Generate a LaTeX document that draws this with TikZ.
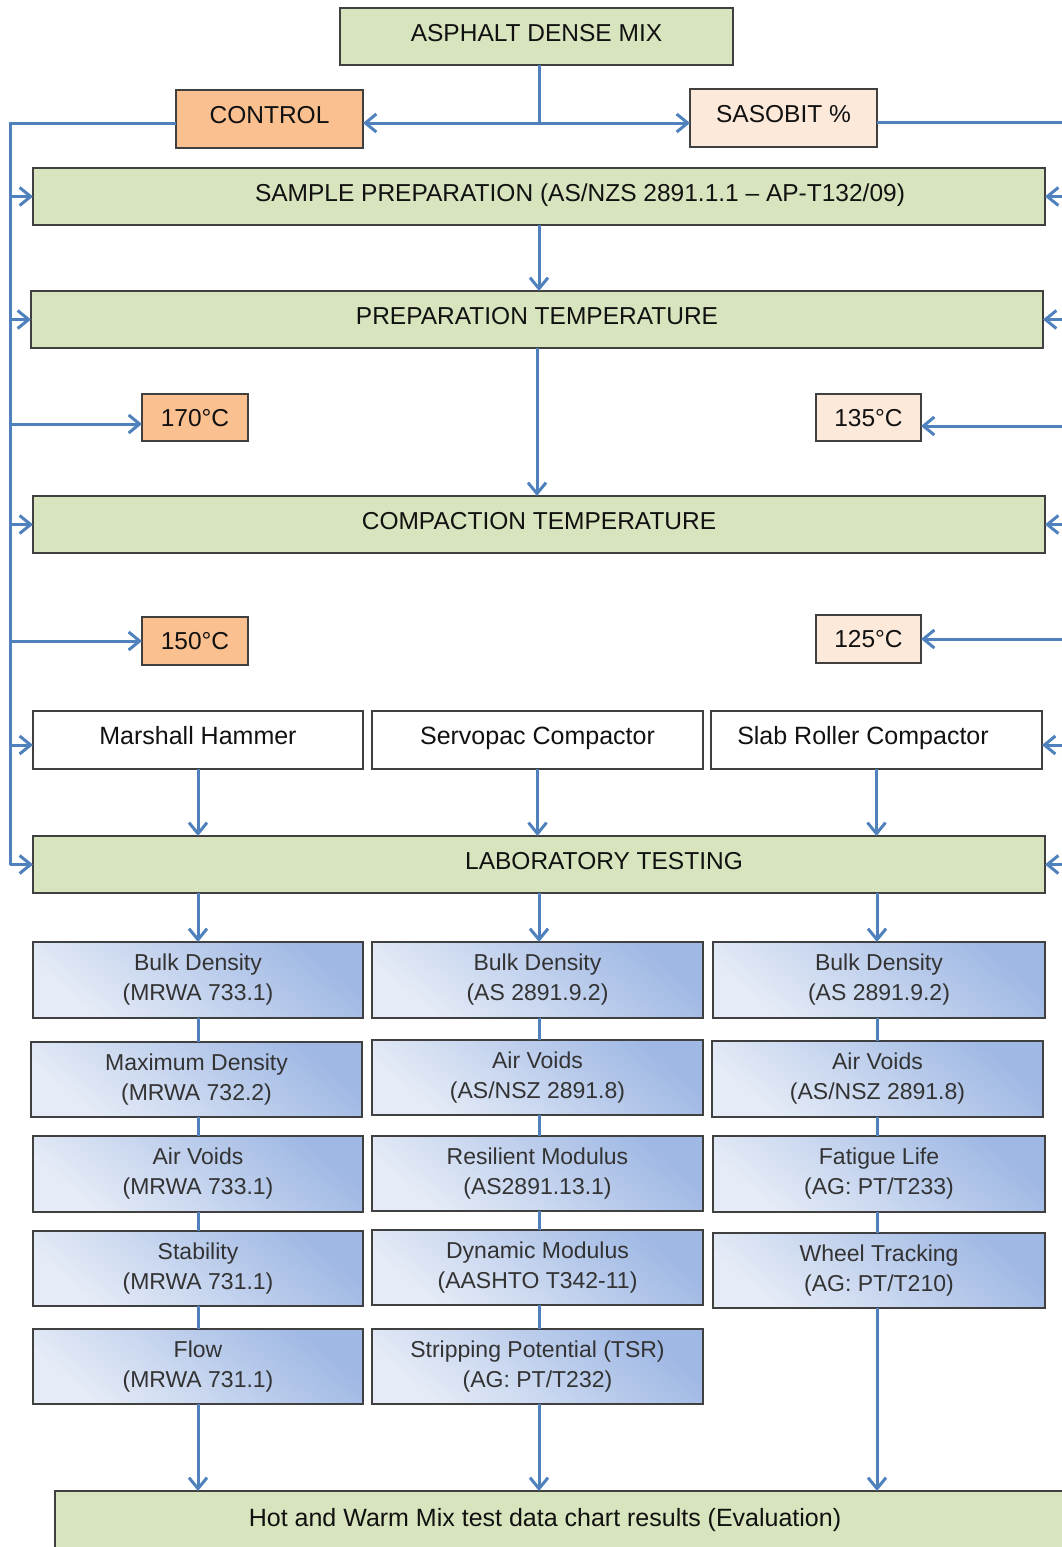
\documentclass[tikz,border=0pt]{standalone}
\usepackage{fontspec}
\setmainfont{Liberation Sans}
\usetikzlibrary{arrows.meta}

\definecolor{boxgreen}{HTML}{D7E4BD}
\definecolor{boxorange}{HTML}{FAC090}
\definecolor{boxpeach}{HTML}{FDE9D9}
\definecolor{flowblue}{HTML}{4F81BD}
\definecolor{edgegray}{HTML}{404040}
\definecolor{bluelight}{HTML}{E6ECF7}
\definecolor{bluedark}{HTML}{9FB8E4}
\definecolor{inktext}{HTML}{111111}
\definecolor{greytext}{HTML}{333333}

\tikzset{
  base/.style={draw=edgegray, line width=1.5pt, inner sep=0pt, outer sep=0pt,
    rectangle, text=inktext},
  capsfont/.style={font=\fontsize{24.5}{28}\selectfont},
  lifted/.style={text height=17.5pt, text depth=8.5pt},
  level/.style={text height=17.5pt, text depth=0pt},
  greenbox/.style={base, fill=boxgreen, capsfont, lifted},
  orangebox/.style={base, fill=boxorange, capsfont},
  peachbox/.style={base, fill=boxpeach, capsfont},
  whitebox/.style={base, fill=white, font=\fontsize{25}{28}\selectfont, lifted},
  testbox/.style={base, left color=bluelight, right color=bluedark,
    shading angle=140, text=greytext, align=center,
    font=\fontsize{23}{30}\selectfont},
  flow/.style={draw=flowblue, line width=3pt},
  arr/.style={flow, -{Straight Barb[length=11pt,width=18pt]}},
}

\begin{document}
\begin{tikzpicture}[x=1pt, y=-1pt]
\useasboundingbox (0,0) rectangle (1062,1547);
\clip (0,0) rectangle (1062,1547);

% --- top of the chart ---
\node[greenbox, minimum width=393, minimum height=57] (mix) at (536.5,36.5) {ASPHALT DENSE MIX};
\node[orangebox, lifted, minimum width=187, minimum height=58] (ctrl) at (269.5,119) {CONTROL};
\node[peachbox, lifted, minimum width=187, minimum height=58] (sas) at (783.5,118) {SASOBIT \%};

\node[greenbox, minimum width=1012, minimum height=57] (sp) at (539,196.5)
  {\hspace*{82pt}SAMPLE PREPARATION (AS/NZS 2891.1.1 – AP-T132/09)};
\node[greenbox, minimum width=1012, minimum height=57] (pt) at (537,319.5) {PREPARATION TEMPERATURE};

\node[orangebox, level, minimum width=106, minimum height=47] (t170) at (195,417.5) {170°C};
\node[peachbox, level, minimum width=105, minimum height=47] (t135) at (868.5,417.5) {135°C};

\node[greenbox, minimum width=1012, minimum height=57] (ct) at (539,524.5) {COMPACTION TEMPERATURE};

\node[orangebox, level, minimum width=106, minimum height=48] (t150) at (195,641) {150°C};
\node[peachbox, level, minimum width=105, minimum height=48] (t125) at (868.5,639) {125°C};

% --- compactors ---
\node[whitebox, minimum width=330, minimum height=58] (mh) at (198,740) {Marshall Hammer};
\node[whitebox, minimum width=331, minimum height=58] (sc) at (537.5,740) {Servopac Compactor};
\node[whitebox, minimum width=331, minimum height=58] (sr) at (876.5,740) {Slab Roller Compactor\hspace*{27pt}};

\node[greenbox, minimum width=1012, minimum height=57] (lab) at (539,864.5)
  {\hspace*{130pt}LABORATORY TESTING};

% --- test boxes, column 1 ---
\node[testbox, minimum width=330, minimum height=76] (b11) at (198,980) {Bulk Density\\(MRWA 733.1)};
\node[testbox, minimum width=331, minimum height=75] (b12) at (196.5,1079.5) {Maximum Density\\(MRWA 732.2)};
\node[testbox, minimum width=330, minimum height=76] (b13) at (198,1174) {Air Voids\\(MRWA 733.1)};
\node[testbox, minimum width=330, minimum height=75] (b14) at (198,1268.5) {Stability\\(MRWA 731.1)};
\node[testbox, minimum width=330, minimum height=75] (b15) at (198,1366.5) {Flow\\(MRWA 731.1)};

% --- test boxes, column 2 ---
\node[testbox, minimum width=331, minimum height=76] (b21) at (537.5,980) {Bulk Density\\(AS 2891.9.2)};
\node[testbox, minimum width=331, minimum height=75] (b22) at (537.5,1077.5) {Air Voids\\(AS/NSZ 2891.8)};
\node[testbox, minimum width=331, minimum height=75] (b23) at (537.5,1173.5) {Resilient Modulus\\(AS2891.13.1)};
\node[testbox, minimum width=331, minimum height=75] (b24) at (537.5,1267.5) {Dynamic Modulus\\(AASHTO T342-11)};
\node[testbox, minimum width=331, minimum height=75] (b25) at (537.5,1366.5) {Stripping Potential (TSR)\\(AG: PT/T232)};

% --- test boxes, column 3 ---
\node[testbox, minimum width=332, minimum height=76] (b31) at (879,980) {Bulk Density\\(AS 2891.9.2)};
\node[testbox, minimum width=331, minimum height=76] (b32) at (877.5,1079) {Air Voids\\(AS/NSZ 2891.8)};
\node[testbox, minimum width=332, minimum height=76] (b33) at (879,1174) {Fatigue Life\\(AG: PT/T233)};
\node[testbox, minimum width=332, minimum height=75] (b34) at (879,1270.5) {Wheel Tracking\\(AG: PT/T210)};

% --- evaluation ---
\node[whitebox, fill=boxgreen, minimum width=1020, minimum height=62] (hw) at (565,1522)
  {Hot and Warm Mix test data chart results (Evaluation)\hspace*{40pt}};

% --- split below the mix ---
\coordinate (fork) at (539,123);
\draw[flow] (fork |- mix.south) -- (fork);
\draw[arr] (fork) -- (ctrl.east |- fork);
\draw[arr] (fork) -- (sas.west |- fork);

% --- control bus on the left ---
\coordinate (lt) at (10,123);
\coordinate (lb) at (10,865);
\draw[flow] (ctrl.west |- lt) -- (lt) -- (lb);
\foreach \target in {sp, pt, ct, lab}
  \draw[arr] (lt |- \target.west) -- (\target.west);
\draw[arr] (lt |- 0,424) -- (t170.west |- 0,424);
\draw[arr] (lt |- t150.west) -- (t150.west);
\draw[arr] (lt |- 0,745) -- (mh.west |- 0,745);

% --- sasobit bus on the right ---
\coordinate (rt) at (1076,122);
\coordinate (rb) at (1076,865);
\draw[flow] (sas.east |- rt) -- (rt) -- (rb);
\foreach \target in {sp, pt, ct, t125, lab}
  \draw[arr] (rt |- \target.east) -- (\target.east);
\draw[arr] (rt |- 0,426) -- (t135.east |- 0,426);
\draw[arr] (rt |- 0,745) -- (sr.east |- 0,745);

% --- main spine ---
\draw[arr] (sp.south) -- (sp.south |- pt.north);
\draw[arr] (pt.south) -- (pt.south |- ct.north);

% --- compactors into testing ---
\foreach \c in {mh, sc, sr}
  \draw[arr] (\c.south) -- (\c.south |- lab.north);

% --- testing into the three columns ---
\draw[arr] (b11.north |- lab.south) -- (b11.north);
\draw[arr] (539,893) coordinate (c2) -- (c2 |- b21.north);
\draw[arr] (877,893) coordinate (c3) -- (c3 |- b31.north);

% --- links inside each column ---
\draw[flow] (b11.south) -- (b11.south |- b12.north);
\draw[flow] (b11.south |- b12.south) -- (b11.south |- b13.north);
\draw[flow] (b13.south) -- (b14.north);
\draw[flow] (b14.south) -- (b15.north);
\draw[flow] (c2 |- b21.south) -- (c2 |- b22.north);
\draw[flow] (c2 |- b22.south) -- (c2 |- b23.north);
\draw[flow] (c2 |- b23.south) -- (c2 |- b24.north);
\draw[flow] (c2 |- b24.south) -- (c2 |- b25.north);
\draw[flow] (c3 |- b31.south) -- (c3 |- b32.north);
\draw[flow] (c3 |- b32.south) -- (c3 |- b33.north);
\draw[flow] (c3 |- b33.south) -- (c3 |- b34.north);

% --- columns into the evaluation ---
\draw[arr] (b15.south) -- (b15.south |- hw.north);
\draw[arr] (c2 |- b25.south) -- (c2 |- hw.north);
\draw[arr] (c3 |- b34.south) -- (c3 |- hw.north);
\end{tikzpicture}
\end{document}
